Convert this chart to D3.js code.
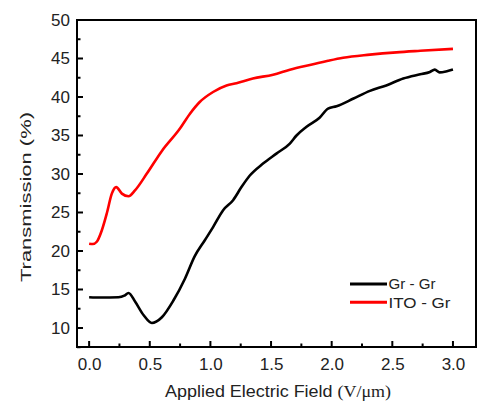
<!DOCTYPE html>
<html>
<head>
<meta charset="utf-8">
<script src="https://cdn.jsdelivr.net/npm/d3@7"></script>
<style>
  body { margin: 0; background: #fff; }
  svg { font-family: "Liberation Sans", Arial, sans-serif; }
</style>
</head>
<body>
<script>
// data
let grField = [0, 0.1, 0.242, 0.29, 0.325, 0.38, 0.45, 0.517, 0.6, 0.696, 0.79, 0.87, 0.954, 1.022, 1.105, 1.187, 1.256, 1.325, 1.434, 1.544, 1.655, 1.71, 1.79, 1.9, 1.97, 2.04, 2.18, 2.315, 2.45, 2.59, 2.73, 2.81, 2.85, 2.89, 2.95, 3.0];
let grTrans = [14.0, 13.95, 14.0, 14.2, 14.55, 13.4, 11.65, 10.65, 11.4, 13.6, 16.4, 19.3, 21.4, 23.1, 25.3, 26.6, 28.3, 29.8, 31.35, 32.65, 33.95, 35.0, 36.1, 37.3, 38.5, 38.8, 39.8, 40.8, 41.5, 42.4, 42.95, 43.25, 43.56, 43.2, 43.35, 43.56];

let itoField = [0, 0.03, 0.063, 0.105, 0.146, 0.187, 0.223, 0.27, 0.325, 0.38, 0.476, 0.6, 0.749, 0.83, 0.912, 1.022, 1.133, 1.215, 1.35, 1.517, 1.655, 1.847, 1.97, 2.094, 2.315, 2.534, 2.73, 3.0];
let itoTrans = [20.95, 20.9, 21.2, 22.7, 24.9, 27.45, 28.3, 27.45, 27.1, 27.9, 30.05, 33.0, 35.9, 37.8, 39.35, 40.65, 41.5, 41.8, 42.4, 42.9, 43.55, 44.25, 44.7, 45.1, 45.5, 45.8, 46.0, 46.25];

let seriesNames = ["Gr - Gr", "ITO - Gr"];
let seriesColors = ["#000", "#f00"];
let xTicks = [0, 0.5, 1.0, 1.5, 2.0, 2.5, 3.0];
let yTicks = [10, 15, 20, 25, 30, 35, 40, 45, 50];

let w = 478, h = 402;
let mLeft = 77, mRight = 476, mTop = 20, mBottom = 347;

let svg = d3.select('body').append('svg').attr('width', w).attr('height', h);

let xScale = d3.scaleLinear().domain([-0.1, 3.19]).range([mLeft, mRight]);
let yScale = d3.scaleLinear().domain([7.53, 50]).range([mBottom, mTop]);

// frame
svg.append('rect')
  .attr('x', mLeft).attr('y', mTop)
  .attr('width', mRight - mLeft).attr('height', mBottom - mTop)
  .style('fill', 'none').style('stroke', '#000').style('stroke-width', 2);

// major + minor ticks, pointing inward
let xMinor = d3.range(0, 3.01, 0.25);
let yMinor = d3.range(7.5, 50.01, 2.5);
svg.append('g').selectAll('line').data(xMinor).enter().append('line')
  .attr('x1', (d) => xScale(d)).attr('x2', (d) => xScale(d))
  .attr('y1', mBottom).attr('y2', (d) => mBottom - (xTicks.includes(d) ? 6 : 3.5))
  .style('stroke', '#000').style('stroke-width', 2);
svg.append('g').selectAll('line').data(yMinor).enter().append('line')
  .attr('y1', (d) => yScale(d)).attr('y2', (d) => yScale(d))
  .attr('x1', mLeft).attr('x2', (d) => mLeft + (yTicks.includes(d) ? 6 : 3.5))
  .style('stroke', '#000').style('stroke-width', 2);

// tick labels through d3 axes (lines hidden)
let xAxis = d3.axisBottom(xScale).tickValues(xTicks).tickFormat(d3.format('.1f')).tickSize(0).tickPadding(11);
let xg = svg.append('g').attr('transform', `translate(0, ${mBottom})`).call(xAxis);
let yAxis = d3.axisLeft(yScale).tickValues(yTicks).tickSize(0).tickPadding(7);
let yg = svg.append('g').attr('transform', `translate(${mLeft}, 0)`).call(yAxis);
[xg, yg].forEach((g) => {
  g.select('.domain').remove();
  g.selectAll('text').style('font-size', '17px').style('fill', '#222')
    .style('font-family', '"Liberation Sans", Arial, sans-serif');
});

// curves
let line = d3.line().x((d) => xScale(d[0])).y((d) => yScale(d[1])).curve(d3.curveMonotoneX);
let grData = d3.zip(grField, grTrans);
let itoData = d3.zip(itoField, itoTrans);
[grData, itoData].forEach((data, i) => {
  svg.append('path').datum(data)
    .attr('d', line)
    .style('fill', 'none')
    .style('stroke', seriesColors[i])
    .style('stroke-width', 2.6)
    .style('stroke-linejoin', 'round');
});

// legend
let legendLens = [47, 62];
let legend = svg.append('g');
seriesNames.forEach((name, i) => {
  let y = 284 + i * 18.3;
  legend.append('line')
    .attr('x1', 350).attr('x2', 387).attr('y1', y).attr('y2', y)
    .style('stroke', seriesColors[i]).style('stroke-width', 3);
  legend.append('text')
    .attr('x', 388.5).attr('y', y + 5.3)
    .attr('textLength', legendLens[i]).attr('lengthAdjust', 'spacingAndGlyphs')
    .style('font-size', '14px').style('fill', '#222')
    .text(name);
});

// axis titles
let xt = svg.append('text')
  .attr('x', 165).attr('y', 397)
  .attr('textLength', 226).attr('lengthAdjust', 'spacingAndGlyphs')
  .style('font-size', '16.5px').style('fill', '#222');
xt.append('tspan').text('Applied Electric Field ');
xt.append('tspan').style('font-family', '"Liberation Serif", "Times New Roman", serif').text('(V/\u03bcm)');

svg.append('text')
  .attr('transform', 'translate(30.5, 282) rotate(-90)')
  .attr('textLength', 170).attr('lengthAdjust', 'spacingAndGlyphs')
  .style('font-size', '15.5px').style('fill', '#222')
  .text('Transmission (%)');
</script>
</body>
</html>
